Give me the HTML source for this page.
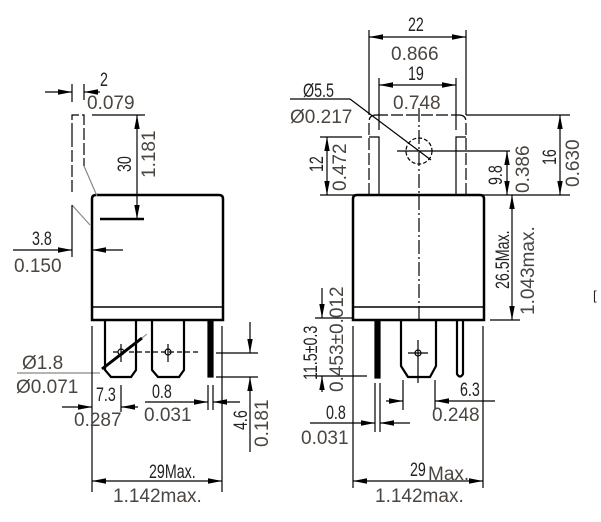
<!DOCTYPE html>
<html><head><meta charset="utf-8"><style>
html,body{margin:0;padding:0;background:#fff;}
svg{display:block;}
text{font-family:"Liberation Sans",sans-serif;fill:#222;}
.i{fill:#4a4540;font-size:19px;}
.m{font-size:19px;}
</style></head><body>
<svg width="601" height="522" viewBox="0 0 601 522" xmlns="http://www.w3.org/2000/svg">
<g stroke="#000" fill="none" stroke-width="1.2">
<path d="M92,320 V199 Q92,195 96,195 H219 Q223,195 223,199 V320 Z" stroke-width="2.5"/>
<line x1="92" y1="307" x2="223" y2="307" stroke-width="1.6"/>
<path d="M105,320 V370 L111,377 H131 L136,370 V320" stroke-width="2.2"/>
<path d="M152,320 V370 L158,377 H179 L184,370 V320" stroke-width="2.2"/>
<rect x="208" y="320" width="5" height="57" fill="#000"/>
<circle cx="121" cy="352" r="3"/><circle cx="168" cy="352" r="3"/>
<line x1="121" y1="344" x2="121" y2="362"/><line x1="168" y1="344" x2="168" y2="362"/>
<line x1="113" y1="352" x2="200" y2="352" stroke-dasharray="5,3"/>
<line x1="102" y1="369" x2="142" y2="338" stroke-width="3"/>
<line x1="142" y1="338" x2="147" y2="334" stroke="#999"/>
<line x1="17" y1="373" x2="100" y2="373" stroke="#888"/>
<path d="M72,135 V115 H84 V166" stroke-dasharray="12,3"/>
<line x1="72" y1="135" x2="72" y2="195" stroke-dasharray="12,3"/>
<line x1="84" y1="166" x2="97" y2="196" stroke="#888"/>
<line x1="72" y1="205" x2="90" y2="225" stroke="#888"/>
<line x1="72" y1="205" x2="72" y2="257"/>
<line x1="72" y1="84" x2="72" y2="102"/><line x1="84" y1="84" x2="84" y2="100"/>
<line x1="45" y1="92" x2="72" y2="92"/>
<line x1="100" y1="92" x2="84" y2="92"/>
<line x1="92" y1="115" x2="145" y2="115"/>
<line x1="137" y1="115" x2="137" y2="219"/>
<line x1="100" y1="219" x2="144" y2="219" stroke-width="2.5"/>
<line x1="13" y1="250" x2="72" y2="250"/>
<line x1="123" y1="250" x2="92" y2="250"/>
<line x1="92" y1="326" x2="92" y2="492"/><line x1="222" y1="326" x2="222" y2="492"/>
<line x1="121" y1="385" x2="121" y2="412"/>
<line x1="62" y1="407" x2="92" y2="407"/>
<line x1="138" y1="407" x2="121" y2="407"/>
<line x1="208" y1="385" x2="208" y2="410"/><line x1="213" y1="385" x2="213" y2="410"/>
<line x1="145" y1="402" x2="208" y2="402"/>
<line x1="240" y1="402" x2="213" y2="402"/>
<line x1="216" y1="353" x2="258" y2="353"/><line x1="216" y1="377" x2="258" y2="377"/>
<line x1="250" y1="322" x2="250" y2="353"/>
<line x1="250" y1="452" x2="250" y2="377"/>
<line x1="92" y1="481" x2="222" y2="481"/>

<path d="M353,320 V199 Q353,195 357,195 H480 Q484,195 484,199 V320 Z" stroke-width="2.5"/>
<line x1="353" y1="307" x2="484" y2="307" stroke-width="1.6"/>
<line x1="419" y1="108" x2="419" y2="320" stroke-dasharray="14,3,2,3"/>
<path d="M369,195 V122 Q369,115 376,115" stroke-dasharray="12,3"/>
<path d="M466,195 V122 Q466,115 459,115" stroke-dasharray="12,3"/>
<line x1="376" y1="115" x2="459" y2="115" stroke-dasharray="12,3"/>
<line x1="466" y1="115" x2="570" y2="115"/>
<path d="M369,137 H379 V195 M456,195 V137 H466"/>
<circle cx="419" cy="151" r="13" stroke-dasharray="4,2"/>
<line x1="397" y1="151" x2="510" y2="151"/>
<line x1="290" y1="99" x2="350" y2="99"/><line x1="350" y1="99" x2="431" y2="160"/>
<line x1="369" y1="30" x2="369" y2="115"/><line x1="466" y1="30" x2="466" y2="115"/>
<line x1="369" y1="37" x2="466" y2="37"/>
<line x1="379" y1="78" x2="379" y2="130"/><line x1="456" y1="78" x2="456" y2="130"/>
<line x1="379" y1="85" x2="456" y2="85"/>
<line x1="320" y1="195" x2="570" y2="195"/>
<line x1="560" y1="115" x2="560" y2="195"/>
<line x1="320" y1="137" x2="362" y2="137"/>
<line x1="327" y1="137" x2="327" y2="195"/>
<line x1="507" y1="151" x2="507" y2="195"/>
<line x1="490" y1="320" x2="520" y2="320"/>
<line x1="512" y1="195" x2="512" y2="320"/>
<rect x="375" y="320" width="5" height="58" fill="#000"/>
<path d="M401,320 V366 L408,377 H430 L436,366 V320" stroke-width="2.2"/>
<circle cx="418" cy="353" r="3"/><line x1="408" y1="353" x2="428" y2="353"/><line x1="418" y1="340" x2="418" y2="383"/>
<path d="M457,320 V374 Q460,379 463,374 V320" stroke-width="2.2"/>
<line x1="315" y1="318" x2="353" y2="318"/>
<line x1="315" y1="376" x2="367" y2="376"/>
<line x1="322" y1="288" x2="322" y2="318"/>
<line x1="322" y1="392" x2="322" y2="376"/>
<line x1="375" y1="383" x2="375" y2="432"/><line x1="380" y1="383" x2="380" y2="432"/>
<line x1="310" y1="423" x2="375" y2="423"/>
<line x1="410" y1="423" x2="380" y2="423"/>
<line x1="403" y1="380" x2="403" y2="410"/><line x1="435" y1="380" x2="435" y2="410"/>
<line x1="386" y1="401" x2="403" y2="401"/>
<line x1="495" y1="401" x2="435" y2="401"/>
<line x1="353" y1="326" x2="353" y2="488"/><line x1="483" y1="326" x2="483" y2="488"/>
<line x1="353" y1="481" x2="483" y2="481"/>
</g>
<g fill="#000" stroke="none">
<polygon points="72,92 58,89.3 58,94.7"/>
<polygon points="84,92 98,89.3 98,94.7"/>
<polygon points="137,115 134.3,129 139.7,129"/>
<polygon points="137,219 134.3,205 139.7,205"/>
<polygon points="72,250 58,247.3 58,252.7"/>
<polygon points="92,250 106,247.3 106,252.7"/>
<polygon points="92,407 78,404.3 78,409.7"/>
<polygon points="121,407 135,404.3 135,409.7"/>
<polygon points="208,402 194,399.3 194,404.7"/>
<polygon points="213,402 227,399.3 227,404.7"/>
<polygon points="250,353 247.3,339 252.7,339"/>
<polygon points="250,377 247.3,391 252.7,391"/>
<polygon points="92,481 106,478.3 106,483.7"/>
<polygon points="222,481 208,478.3 208,483.7"/>
<polygon points="369,37 383,34.3 383,39.7"/>
<polygon points="466,37 452,34.3 452,39.7"/>
<polygon points="379,85 393,82.3 393,87.7"/>
<polygon points="456,85 442,82.3 442,87.7"/>
<polygon points="560,115 557.3,129 562.7,129"/>
<polygon points="560,195 557.3,181 562.7,181"/>
<polygon points="327,137 324.3,151 329.7,151"/>
<polygon points="327,195 324.3,181 329.7,181"/>
<polygon points="507,151 504.3,165 509.7,165"/>
<polygon points="507,195 504.3,181 509.7,181"/>
<polygon points="512,195 509.3,209 514.7,209"/>
<polygon points="512,320 509.3,306 514.7,306"/>
<polygon points="322,318 319.3,304 324.7,304"/>
<polygon points="322,376 319.3,390 324.7,390"/>
<polygon points="375,423 361,420.3 361,425.7"/>
<polygon points="380,423 394,420.3 394,425.7"/>
<polygon points="403,401 389,398.3 389,403.7"/>
<polygon points="435,401 449,398.3 449,403.7"/>
<polygon points="353,481 367,478.3 367,483.7"/>
<polygon points="483,481 469,478.3 469,483.7"/>
</g>
<g>
<text class="m" transform="translate(100 86) scale(0.75 1)">2</text>
<text class="i" x="87" y="109">0.079</text>
<text class="m" transform="translate(131 172) rotate(-90) scale(0.75 1)">30</text>
<text class="i" transform="translate(155 178) rotate(-90)">1.181</text>
<text class="m" transform="translate(32 245) scale(0.75 1)">3.8</text>
<text class="i" x="14" y="272">0.150</text>
<text class="i" x="22" y="369" fill="#666">Ø1.8</text>
<text class="i" x="16" y="393">Ø0.071</text>
<text class="m" transform="translate(96 401) scale(0.75 1)">7.3</text>
<text class="i" x="74" y="426">0.287</text>
<text class="m" transform="translate(152 398) scale(0.75 1)">0.8</text>
<text class="i" x="144" y="421">0.031</text>
<text class="m" transform="translate(247 430) rotate(-90) scale(0.75 1)">4.6</text>
<text class="i" transform="translate(268 447) rotate(-90)">0.181</text>
<text class="m" transform="translate(149 478) scale(0.75 1)">29Max.</text>
<text class="i" x="113" y="502">1.142max.</text>

<text class="m" transform="translate(408 31) scale(0.75 1)">22</text>
<text class="i" x="391" y="60">0.866</text>
<text class="m" transform="translate(408 80) scale(0.75 1)">19</text>
<text class="i" x="393" y="109">0.748</text>
<text class="m" transform="translate(303 97) scale(0.75 1)">Ø5.5</text>
<text class="i" x="290" y="123">Ø0.217</text>
<text class="m" transform="translate(323 172) rotate(-90) scale(0.75 1)">12</text>
<text class="i" transform="translate(346 191) rotate(-90)">0.472</text>
<text class="m" transform="translate(502 185) rotate(-90) scale(0.75 1)">9.8</text>
<text class="i" transform="translate(529 193) rotate(-90)">0.386</text>
<text class="m" transform="translate(556 165) rotate(-90) scale(0.75 1)">16</text>
<text class="i" transform="translate(579 187) rotate(-90)">0.630</text>
<text class="m" transform="translate(509 289) rotate(-90) scale(0.75 1)">26.5Max.</text>
<text class="i" transform="translate(534 315) rotate(-90)">1.043max.</text>
<text class="m" transform="translate(317 380) rotate(-90) scale(0.75 1)">11.5±0.3</text>
<text class="i" transform="translate(343 392) rotate(-90)">0.453±0.012</text>
<text class="m" transform="translate(326 419) scale(0.75 1)">0.8</text>
<text class="i" x="301" y="444">0.031</text>
<text class="m" transform="translate(460 396) scale(0.75 1)">6.3</text>
<text class="i" x="432" y="421">0.248</text>
<text class="m" transform="translate(410 476) scale(0.75 1)">29</text>
<text class="i" x="428" y="480">Max.</text>
<text class="i" x="375" y="502">1.142max.</text>
<text x="593" y="300" style="font-size:13px" fill="#555">[</text>
</g>
</svg>
</body></html>
